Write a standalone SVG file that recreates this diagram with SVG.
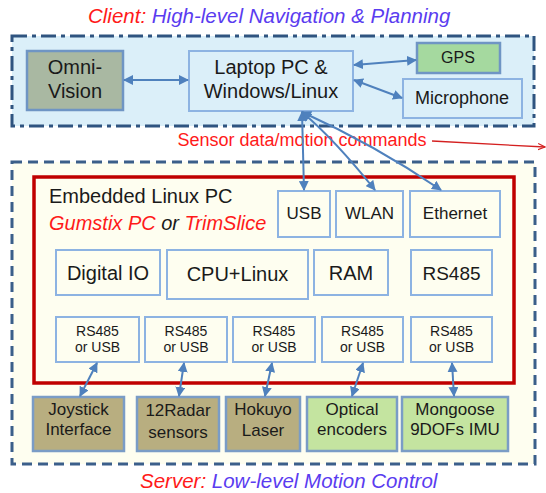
<svg xmlns="http://www.w3.org/2000/svg" width="546" height="493" viewBox="0 0 546 493">
<defs>
<style>
text{font-family:"Liberation Sans",Arial,sans-serif;fill:#1a1a1a;text-anchor:middle}
.title{font-size:20.5px;font-style:italic;text-anchor:start}
.red{fill:#ff1a1a}
.pur{fill:#5a3cf0}
.lb{fill:#dbeff9;stroke:#8db3e2;stroke-width:2}
.yb{fill:#fefef0;stroke:#8db3e2;stroke-width:2}
.omni{fill:#a9b8a2;stroke:#6f95c4;stroke-width:2.5}
.gps{fill:#a5d99f;stroke:#6f95c4;stroke-width:2.5}
.tan{fill:#b8ae80;stroke:#7a9cc6;stroke-width:2.5}
.grn{fill:#c4e4a0;stroke:#7a9cc6;stroke-width:2.5}
.t20{font-size:20px}
.t19{font-size:19px}
.t18{font-size:18px}
.t17{font-size:17px}
.t16{font-size:16px}
.t14{font-size:14px}
.conn{fill:none;stroke:#4f81bd;stroke-width:2;marker-start:url(#ah);marker-end:url(#ah)}
</style>
<marker id="ah" viewBox="0 0 10 10" refX="9" refY="5" markerWidth="5" markerHeight="5" orient="auto-start-reverse" markerUnits="strokeWidth">
<path d="M0,0 L10,5 L0,10 z" fill="#4f81bd"/>
</marker>
<marker id="rh" viewBox="0 0 10 10" refX="9" refY="5" markerWidth="6" markerHeight="6" orient="auto" markerUnits="strokeWidth">
<path d="M0,1 L9,5 L0,9" fill="none" stroke="#d42020" stroke-width="1.5"/>
</marker>
</defs>

<text class="title" x="88" y="23"><tspan class="red">Client:</tspan><tspan class="pur"> High-level Navigation &amp; Planning</tspan></text>

<g id="client">
<rect x="12" y="36" width="522" height="90" fill="#dbeff9" stroke="#2f5480" stroke-width="3" stroke-dasharray="15 5 4 5"/>
</g>

<g id="server">
<rect x="12" y="162" width="523" height="302" fill="#fefef0" stroke="#3b5f8a" stroke-width="3" stroke-dasharray="10 6"/>
</g>

<g id="omni">
<rect class="omni" x="27" y="51" width="96" height="59"/>
<text class="t20" x="75" y="74">Omni-</text>
<text class="t20" x="75" y="98">Vision</text>
</g>

<g id="laptop">
<rect class="lb" x="189" y="51" width="164" height="60"/>
<text class="t20" x="271" y="74">Laptop PC &amp;</text>
<text class="t20" x="271" y="98">Windows/Linux</text>
</g>

<g id="gps">
<rect class="gps" x="417" y="43" width="83" height="30"/>
<text class="t16" x="458" y="63">GPS</text>
</g>

<g id="microphone">
<rect class="lb" x="403" y="79" width="119" height="39"/>
<text class="t18" x="462" y="104">Microphone</text>
</g>

<g id="sensor-label">
<text class="red" x="302" y="146" style="font-size:18px">Sensor data/motion commands</text>
</g>

<g id="embedded">
<rect x="34" y="177" width="480" height="206" fill="none" stroke="#c00000" stroke-width="3.5"/>
<text class="t20" x="49" y="203" style="text-anchor:start">Embedded Linux PC</text>
<text class="t20" x="49" y="230" style="text-anchor:start;font-style:italic"><tspan class="red">Gumstix PC</tspan> or <tspan class="red">TrimSlice</tspan></text>
</g>

<g id="usb">
<rect class="yb" x="278" y="191" width="52" height="46"/>
<text class="t17" x="304" y="219">USB</text>
</g>
<g id="wlan">
<rect class="yb" x="336" y="191" width="67" height="46"/>
<text class="t17" x="369.5" y="219">WLAN</text>
</g>
<g id="ethernet">
<rect class="yb" x="410" y="191" width="90" height="46"/>
<text class="t17" x="455" y="219">Ethernet</text>
</g>

<g id="digital-io">
<rect class="yb" x="56" y="250" width="104" height="45"/>
<text class="t20" x="108" y="280">Digital IO</text>
</g>
<g id="cpu">
<rect class="yb" x="167" y="250" width="141" height="49"/>
<text class="t20" x="237.5" y="281">CPU+Linux</text>
</g>
<g id="ram">
<rect class="yb" x="314" y="250" width="74" height="45"/>
<text class="t20" x="351" y="280">RAM</text>
</g>
<g id="rs485">
<rect class="yb" x="411" y="250" width="81" height="45"/>
<text class="t19" x="451.5" y="280">RS485</text>
</g>

<g id="port1">
<rect class="yb" x="56" y="317" width="83" height="45"/>
<text class="t14" x="97.5" y="336">RS485</text>
<text class="t14" x="97.5" y="352">or USB</text>
</g>
<g id="port2">
<rect class="yb" x="145" y="317" width="82" height="45"/>
<text class="t14" x="186" y="336">RS485</text>
<text class="t14" x="186" y="352">or USB</text>
</g>
<g id="port3">
<rect class="yb" x="233" y="317" width="82" height="45"/>
<text class="t14" x="274" y="336">RS485</text>
<text class="t14" x="274" y="352">or USB</text>
</g>
<g id="port4">
<rect class="yb" x="322" y="317" width="81" height="45"/>
<text class="t14" x="362.5" y="336">RS485</text>
<text class="t14" x="362.5" y="352">or USB</text>
</g>
<g id="port5">
<rect class="yb" x="411" y="317" width="81" height="45"/>
<text class="t14" x="451.5" y="336">RS485</text>
<text class="t14" x="451.5" y="352">or USB</text>
</g>

<g id="joystick">
<rect class="tan" x="33" y="397" width="91" height="54"/>
<text class="t17" x="78.5" y="415">Joystick</text>
<text class="t17" x="78.5" y="435">Interface</text>
</g>
<g id="radar">
<rect class="tan" x="137" y="397" width="82" height="54"/>
<text class="t17" x="178" y="416">12Radar</text>
<text class="t17" x="178" y="438">sensors</text>
</g>
<g id="hokuyo">
<rect class="tan" x="226" y="397" width="74" height="54"/>
<text class="t17" x="263" y="415">Hokuyo</text>
<text class="t17" x="263" y="436">Laser</text>
</g>
<g id="optical">
<rect class="grn" x="307" y="397" width="90" height="54"/>
<text class="t17" x="352" y="415">Optical</text>
<text class="t17" x="352" y="435">encoders</text>
</g>
<g id="mongoose">
<rect class="grn" x="402" y="397" width="106" height="54"/>
<text class="t17" x="455" y="415">Mongoose</text>
<text class="t17" x="455" y="435">9DOFs IMU</text>
</g>

<g id="connectors">
<path class="conn" d="M124,80 L188,80"/>
<path class="conn" d="M354,65 L416,60"/>
<path class="conn" d="M354,80 L402,98"/>
<path class="conn" d="M302,112 L304,190"/>
<path class="conn" d="M302,112 Q335,140 375,190"/>
<path class="conn" d="M302,112 Q375,145 441,190"/>
<path class="conn" d="M97,363 L80,396"/>
<path class="conn" d="M184,363 L179,396"/>
<path class="conn" d="M272,363 L265,396"/>
<path class="conn" d="M363,363 L352,396"/>
<path class="conn" d="M452,363 L454,396"/>
<path d="M432,141 L545,147" fill="none" stroke="#d42020" stroke-width="1.3" marker-end="url(#rh)"/>
</g>

<text class="title" x="140" y="488"><tspan class="red">Server:</tspan><tspan class="pur"> Low-level Motion Control</tspan></text>
</svg>
